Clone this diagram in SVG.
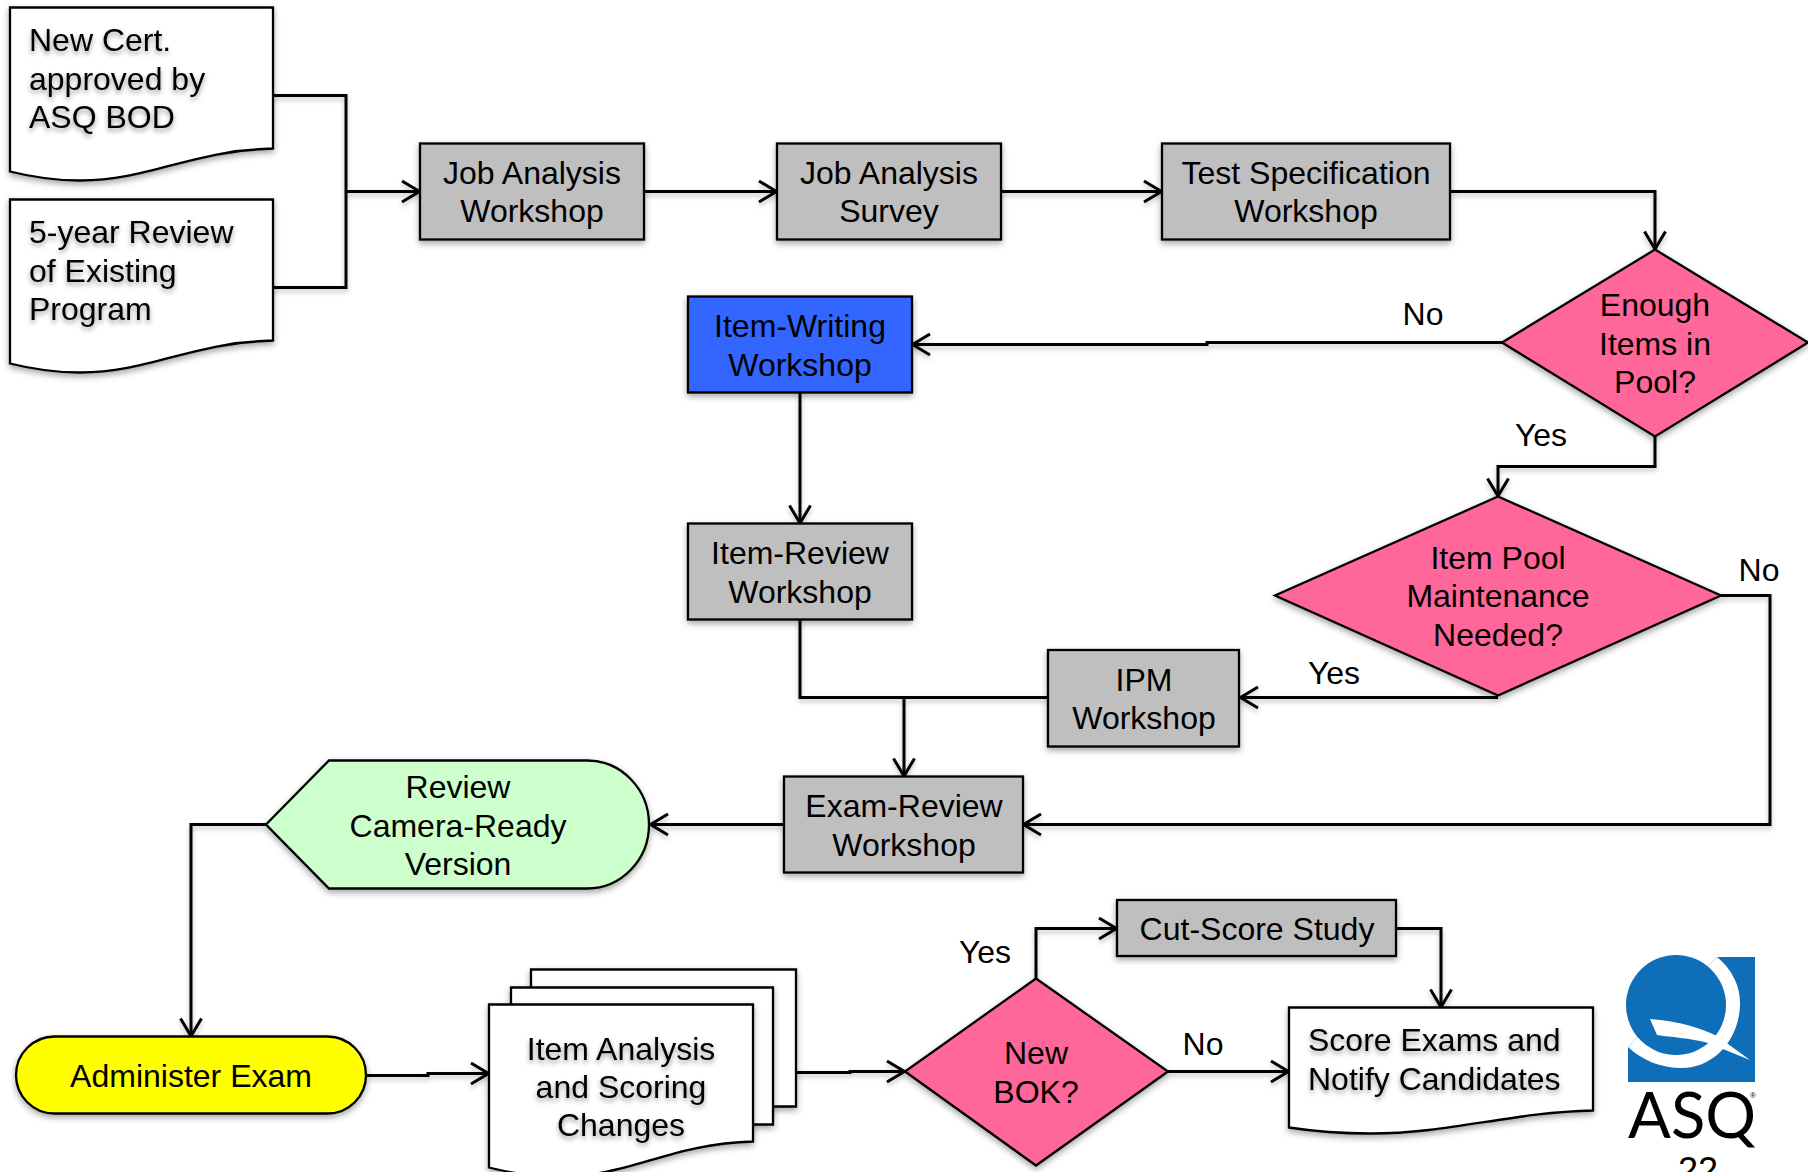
<svg xmlns="http://www.w3.org/2000/svg" width="1808" height="1172" viewBox="0 0 1808 1172">
<style>
text{font-family:"Liberation Sans",Arial,sans-serif;font-size:32px;fill:#000;text-anchor:middle}
.l{text-anchor:start}
.ts{filter:url(#ts)}
.s{stroke:#000;stroke-width:2.3;filter:url(#sh);stroke-linejoin:miter;transform:translate(0,.5px)}
.box{fill:#bfbfbf}.doc{fill:#fff}.pink{fill:#ff6699}
#connectors{filter:url(#cs);transform:translate(0,.5px)}
#connectors path{fill:none;stroke:#000;stroke-width:3}
.a{marker-end:url(#arr)}
</style>
<defs>
<marker id="arr" markerUnits="userSpaceOnUse" markerWidth="24" markerHeight="28" refX="20" refY="14" orient="auto"><path d="M2 3.500 L19.500 14 L2 24.500" fill="none" stroke="#000" stroke-width="3"/></marker>
<filter id="sh" x="-10%" y="-10%" width="120%" height="125%"><feDropShadow dx="0" dy="3" stdDeviation="3" flood-color="#000" flood-opacity=".35"/></filter>
<filter id="cs" x="-5%" y="-5%" width="110%" height="110%"><feDropShadow dx="0" dy="3" stdDeviation="2.500" flood-color="#000" flood-opacity=".25"/></filter>
<filter id="ts" x="-10%" y="-20%" width="120%" height="150%"><feDropShadow dx="0" dy="3" stdDeviation="2.500" flood-color="#000" flood-opacity=".4"/></filter>
</defs>
<rect width="1808" height="1172" fill="#fff"/>
<g id="connectors">
<path d="M273 95H346V287H273"/>
<path class="a" d="M346 191H420"/>
<path class="a" d="M644 191H777"/>
<path class="a" d="M1001 191H1162"/>
<path class="a" d="M1450 191H1655V249"/>
<path class="a" d="M1502 342H1207V344H912"/>
<path class="a" d="M800 392V523"/>
<path class="a" d="M1655 436V466H1498V496"/>
<path class="a" d="M1721 595H1770V824H1023"/>
<path class="a" d="M1498 697H1240"/>
<path d="M800 619V697H1048"/>
<path class="a" d="M904 697V776"/>
<path class="a" d="M784 824H718V824H650"/>
<path class="a" d="M266 824H191V1036"/>
<path class="a" d="M366 1075H428V1073H489"/>
<path class="a" d="M796 1072H850V1071H905"/>
<path class="a" d="M1036 978V928H1117"/>
<path class="a" d="M1168 1071H1289"/>
<path class="a" d="M1396 928H1441V1007"/>
</g>
<g id="edge-labels">
<text x="1423" y="325">No</text>
<text x="1541" y="446">Yes</text>
<text x="1759" y="581">No</text>
<text x="1334" y="684">Yes</text>
<text x="985" y="963">Yes</text>
<text x="1203" y="1055">No</text>
</g>
<g id="n-newcert"><path class="s doc" d="M10 7H273V148C190 150 150 180 80 180C50 180 30 176 10 171Z"/>
<g class="ts"><text class="l" x="29" y="51">New Cert.</text><text class="l" x="29" y="90">approved by</text><text class="l" x="29" y="128">ASQ BOD</text></g></g>
<g id="n-review5"><path class="s doc" d="M10 199H273V340C190 342 150 372 80 372C50 372 30 368 10 363Z"/>
<g class="ts"><text class="l" x="29" y="243">5-year Review</text><text class="l" x="29" y="282">of Existing</text><text class="l" x="29" y="320">Program</text></g></g>
<g id="n-jaw"><rect class="s box" x="420" y="143" width="224" height="96"/><text x="532" y="184">Job Analysis</text><text x="532" y="222">Workshop</text></g>
<g id="n-jas"><rect class="s box" x="777" y="143" width="224" height="96"/><text x="889" y="184">Job Analysis</text><text x="889" y="222">Survey</text></g>
<g id="n-tsw"><rect class="s box" x="1162" y="143" width="288" height="96"/><text x="1306" y="184">Test Specification</text><text x="1306" y="222">Workshop</text></g>
<g id="n-enough"><path class="s pink" d="M1655 249L1808 342L1655 436L1502 342Z"/><text x="1655" y="316">Enough</text><text x="1655" y="355">Items in</text><text x="1655" y="393">Pool?</text></g>
<g id="n-iww"><rect class="s" fill="#3366ff" x="688" y="296" width="224" height="96"/><text x="800" y="337">Item-Writing</text><text x="800" y="376">Workshop</text></g>
<g id="n-irw"><rect class="s box" x="688" y="523" width="224" height="96"/><text x="800" y="564">Item-Review</text><text x="800" y="603">Workshop</text></g>
<g id="n-ipmq"><path class="s pink" d="M1498 496L1721 595L1498 695L1275 595Z"/><text x="1498" y="569">Item Pool</text><text x="1498" y="607">Maintenance</text><text x="1498" y="646">Needed?</text></g>
<g id="n-ipm"><rect class="s box" x="1048" y="649.500" width="191" height="96.500"/><text x="1144" y="691">IPM</text><text x="1144" y="729">Workshop</text></g>
<g id="n-erw"><rect class="s box" x="784" y="776" width="239" height="96"/><text x="904" y="817">Exam-Review</text><text x="904" y="856">Workshop</text></g>
<g id="n-camera"><path class="s" fill="#ccffcc" d="M266 824L329 760H587A62 64 0 0 1 587 888H329Z"/><text x="458" y="798">Review</text><text x="458" y="837">Camera-Ready</text><text x="458" y="875">Version</text></g>
<g id="n-admin"><rect class="s" fill="#ffff00" x="16" y="1036" width="350" height="77" rx="38.500"/><text x="191" y="1087">Administer Exam</text></g>
<g id="n-items">
<path class="s doc" d="M531 969H796V1106H700V1020H531Z"/>
<path class="s doc" d="M511 987H773V1124H700V1020H511Z"/>
<path class="s doc" d="M489 1004H753V1141C670 1143 630 1176 560 1176C530 1176 510 1172 489 1167Z"/>
<g class="ts"><text x="621" y="1060">Item Analysis</text><text x="621" y="1098">and Scoring</text><text x="621" y="1136">Changes</text></g></g>
<g id="n-bok"><path class="s pink" d="M1036 978L1168 1071L1036 1165L905 1071Z"/><text x="1036" y="1064">New</text><text x="1036" y="1103">BOK?</text></g>
<g id="n-cut"><rect class="s box" x="1117" y="899.500" width="279" height="56"/><text x="1257" y="940">Cut-Score Study</text></g>
<g id="n-score"><path class="s doc" d="M1289 1007H1593V1110C1510 1112 1450 1133 1370 1133C1340 1133 1315 1131 1289 1127Z"/>
<g class="ts"><text class="l" x="1308" y="1051">Score Exams and</text><text class="l" x="1308" y="1090">Notify Candidates</text></g></g>
<g id="logo">
<path d="M1717 957H1755V1082H1628V1047Z" fill="#0e6eb8"/>
<path d="M1717 957C1733 970 1740 987 1740 1003C1740 1040 1713 1068 1682 1068C1660 1068 1642 1060 1628 1047Z" fill="#fff"/>
<circle cx="1676" cy="1005" r="50" fill="#0e6eb8"/>
<path d="M1650 1019C1680 1021 1700 1028 1717 1036L1750 1060L1708 1043C1690 1038 1670 1037 1657 1035Z" fill="#fff"/>
<text x="1628" y="1138" textLength="128" lengthAdjust="spacingAndGlyphs" class="l" style="font-family:Lato,'Liberation Sans',sans-serif;font-size:64px;font-weight:400">ASQ</text>
<text x="1753" y="1098" style="font-size:8px">®</text>
<text x="1698" y="1183" style="font-size:36px">22</text>
</g>
</svg>
